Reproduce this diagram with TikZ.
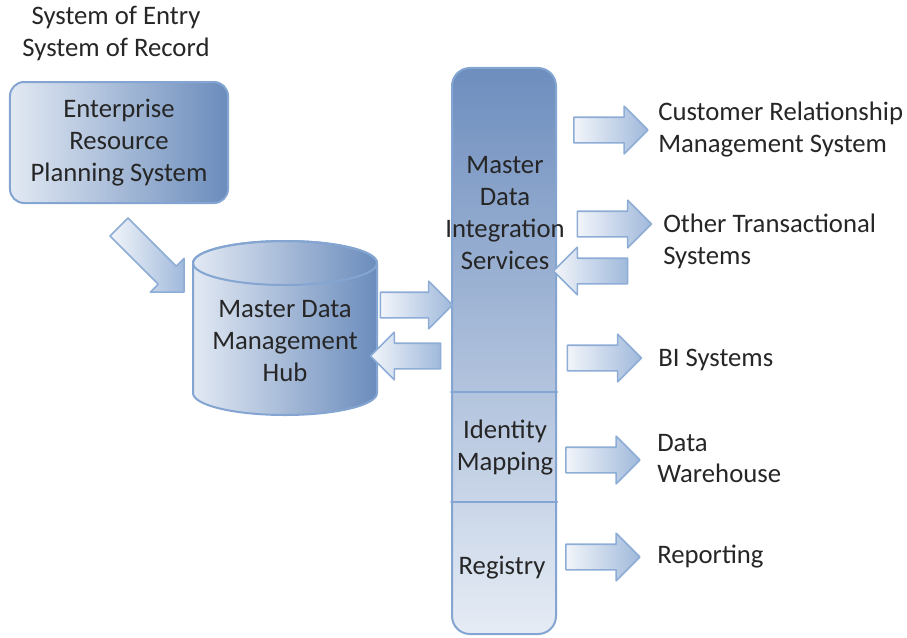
\documentclass[tikz,border=0pt]{standalone}
\usepackage{fontspec}
\setmainfont{Carlito}
\usetikzlibrary{shapes.arrows}
\definecolor{boxlight}{HTML}{E2E9F3}
\definecolor{boxdark}{HTML}{6B8CBC}
\definecolor{frameblue}{HTML}{84A5D1}
\definecolor{coltop}{HTML}{6E8EBE}
\definecolor{colbottom}{HTML}{E6ECF5}
\definecolor{arrowlight}{HTML}{F2F5FA}
\definecolor{arrowdark}{HTML}{A0B9DB}
\definecolor{arrowline}{HTML}{8DACD6}
\definecolor{textgray}{HTML}{262626}
\begin{document}
\begin{tikzpicture}[x=0.25mm, y=0.25mm, font=\fontsize{19}{22.6}\selectfont, line join=round, line cap=round,
	txt/.style={text=textgray, align=center, inner sep=0pt},
	lbl/.style={text=textgray, align=left, anchor=west, inner sep=0pt},
	blockarrow/.style={single arrow, draw=arrowline, line width=0.4mm, minimum height=18.5mm, minimum width=11.5mm,
		single arrow head extend=2.75mm, inner xsep=0pt, inner ysep=3mm, left color=arrowlight, right color=arrowdark},
	backarrow/.style={blockarrow, shape border rotate=180}]
			\useasboundingbox (0,0) rectangle (907,-637);
			\node[txt] (title) at (116,-33.5) {System of Entry\\System of Record};
			\node[txt, draw=frameblue, line width=0.5mm, rounded corners=3.5mm, minimum width=54.5mm, minimum height=30.25mm,
				left color=boxlight, right color=boxdark] (erp) at (119,-142.5) {Enterprise\\Resource\\Planning System};
			\draw[frameblue, line width=0.5mm, left color=boxlight, right color=boxdark] (193,-263) -- (193,-393)
				arc[start angle=180, end angle=360, x radius=92, y radius=22] -- (377,-263)
				arc[start angle=0, end angle=180, x radius=92, y radius=22] -- cycle;
			\draw[frameblue, line width=0.5mm] (285,-263) ellipse[x radius=92, y radius=22];
			\node[txt] (hub) at (285,-341) {Master Data\\Management\\Hub};
			\node[draw=frameblue, line width=0.5mm, rounded corners=4.5mm, minimum width=26mm, minimum height=141.5mm,
				top color=coltop, bottom color=colbottom] (mdi) at (504,-351) {};
			\coordinate (cut1) at (504,-392);
			\coordinate (cut2) at (504,-502);
			\draw[frameblue, line width=0.5mm] (mdi.west |- cut1) -- (mdi.east |- cut1);
			\draw[frameblue, line width=0.5mm] (mdi.west |- cut2) -- (mdi.east |- cut2);
			\node[txt] (mdis) at (505,-213) {Master\\Data\\Integration\\Services};
			\node[txt] (idmap) at (505,-447.5) {Identity\\Mapping};
			\node[txt] (registry) at (502,-568) {Registry};
			\node[lbl] (crm) at (658,-129.5) {Customer Relationship\\Management System};
			\node[lbl] (ots) at (663,-241.5) {Other Transactional\\Systems};
			\node[lbl] (bi) at (658,-360) {BI Systems};
			\node[lbl] (dw) at (657,-458.5) {Data\\Warehouse};
			\node[lbl] (rep) at (657,-557) {Reporting};
			\node[blockarrow, rotate=-45, minimum height=23mm] (erp2hub) at (147,-255) {};
			\node[blockarrow, minimum height=18mm] (hub2mdi) at (410,-305) {};
			\node[backarrow, minimum height=17.5mm] (mdi2hub) at (412,-356) {};
			\node[blockarrow] (tocrm) at (604.5,-130) {};
			\node[blockarrow] (toots) at (608,-224) {};
			\node[backarrow] (fromots) at (597,-271) {};
			\node[blockarrow] (tobi) at (598,-358) {};
			\node[blockarrow] (todw) at (596.5,-460) {};
			\node[blockarrow] (torep) at (596.5,-557) {};
		\end{tikzpicture}
\end{document}
